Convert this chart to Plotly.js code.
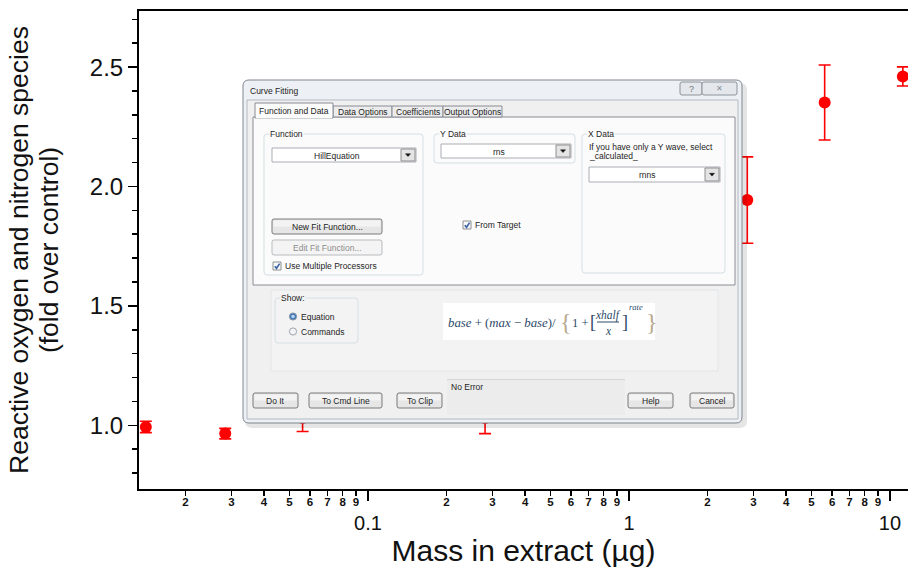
<!DOCTYPE html>
<html><head><meta charset="utf-8">
<script src="https://cdn.plot.ly/plotly-3.0.1.min.js"></script>
<style>html,body{margin:0;padding:0;background:#fff;overflow:hidden}#chart{width:908px;height:569px}</style>
</head><body><div id="chart"></div>
<script>
// ---- data ----
const massUg  = [0.0141, 0.0284, 0.0562, 0.142, 0.281, 2.84, 5.62, 11.2];
const rnsFold = [0.993, 0.965, 1.03, 1.05, 1.03, 1.943, 2.352, 2.461];
const rnsErr  = [0.024, 0.022, 0.056, 0.02, 0.065, 0.181, 0.157, 0.04];
const majorTicks  = [0.1, 1, 10];
const majorLabels = ['0.1', '1', '10'];
const minorTicks  = [0.02,0.03,0.04,0.05,0.06,0.07,0.08,0.09,0.2,0.3,0.4,0.5,0.6,0.7,0.8,0.9,2,3,4,5,6,7,8,9];
const minorLabels = ['2','3','4','5','6','7','8','9','2','3','4','5','6','7','8','9','2','3','4','5','6','7','8','9'];
const yTickVals   = [1.0, 1.5, 2.0, 2.5];

// ---- dialog overlay helpers (pixel -> paper) ----
const ML=139, MT=11, PW=769, PH=478;
const X = p => (p-ML)/PW, Y = p => (MT+PH-p)/PH;
const shapes=[], ann=[];
const UI=8.5;
function ln(c,w){return c?{color:c,width:w||1}:{color:'rgba(0,0,0,0)',width:0};}
function rect(x0,y0,x1,y1,fill,line,lw){shapes.push({type:'rect',xref:'paper',yref:'paper',x0:X(x0),x1:X(x1),y0:Y(y0),y1:Y(y1),fillcolor:fill||'rgba(0,0,0,0)',line:ln(line,lw),layer:'above'});}
function rrect(x0,y0,x1,y1,r,fill,line,lw){
  const p=`M${X(x0+r)},${Y(y0)} L${X(x1-r)},${Y(y0)} Q${X(x1)},${Y(y0)} ${X(x1)},${Y(y0+r)} L${X(x1)},${Y(y1-r)} Q${X(x1)},${Y(y1)} ${X(x1-r)},${Y(y1)} L${X(x0+r)},${Y(y1)} Q${X(x0)},${Y(y1)} ${X(x0)},${Y(y1-r)} L${X(x0)},${Y(y0+r)} Q${X(x0)},${Y(y0)} ${X(x0+r)},${Y(y0)} Z`;
  shapes.push({type:'path',xref:'paper',yref:'paper',path:p,fillcolor:fill||'rgba(0,0,0,0)',line:ln(line,lw),layer:'above'});
}
function seg(x0,y0,x1,y1,c,w){shapes.push({type:'line',xref:'paper',yref:'paper',x0:X(x0),x1:X(x1),y0:Y(y0),y1:Y(y1),line:{color:c,width:w||1},layer:'above'});}
function poly(pts,fill,line,lw,closed){
  let p='M'+pts.map(q=>X(q[0])+','+Y(q[1])).join(' L')+(closed?' Z':'');
  shapes.push({type:'path',xref:'paper',yref:'paper',path:p,fillcolor:fill||'rgba(0,0,0,0)',line:ln(line,lw),layer:'above'});
}
function circ(cx,cy,r,fill,line){shapes.push({type:'circle',xref:'paper',yref:'paper',x0:X(cx-r),x1:X(cx+r),y0:Y(cy+r),y1:Y(cy-r),fillcolor:fill,line:ln(line,1),layer:'above'});}
function txt(x,y,t,o){o=o||{};ann.push({xref:'paper',yref:'paper',x:X(x),y:Y(y),text:t,showarrow:false,xanchor:o.anchor||'left',yanchor:o.yanchor||'middle',borderpad:0,bgcolor:o.bg||'rgba(0,0,0,0)',font:{family:o.family||'Liberation Sans',size:o.size||UI,color:o.color||'#1e1e1e',style:o.style||'normal'}});}
function btn(x0,y0,x1,y1,label,disabled){
  rrect(x0,y0,x1,y1,2,disabled?'#f4f4f4':'#e6e6e6',disabled?'#b7bbbf':'#7a7a7a',1);
  if(!disabled) rect(x0+1.5,y0+1.5,x1-1.5,(y0+y1)/2,'#f3f3f3');
  txt((x0+x1)/2,(y0+y1)/2+0.5,label,{anchor:'center',color:disabled?'#8d8d8d':'#1e1e1e'});
}
function dropdown(x0,y0,x1,y1,label){
  rect(x0,y0,x1,y1,'#ffffff','#abadb3',1);
  const bx0=x1-15;
  rect(bx0,y0+1,x1-1,y1-1,'#e4e4e4','#8f8f8f',1);
  const cx=(bx0+x1-1)/2, cy=(y0+y1)/2;
  poly([[cx-2.5,cy-1.2],[cx+2.5,cy-1.2],[cx,cy+1.6]],'#111','#111',0.5,true);
  txt((x0+bx0)/2,cy+0.5,label,{anchor:'center'});
}
function check(x0,y0,label){
  rect(x0,y0,x0+8,y0+8,'#f6f8fb','#8e8f8f',1);
  poly([[x0+1.8,y0+4.2],[x0+3.5,y0+6.3],[x0+6.6,y0+1.6]],null,'#3e62a3',1.6,false);
  txt(x0+11,y0+4.3,label);
}
function group(x0,y0,x1,y1,label,bg){
  rrect(x0,y0,x1,y1,3,null,'#d5dfe5',1);
  txt(x0+5,y0,label,{bg:bg||'#fbfbfb'});
}

// window shadow & frame
rrect(245,83,747,428,7,'rgba(0,0,0,0.10)');
rrect(243,80,742,423,6,'#edf0f4','#7f8790',1);
rect(247,100,738,419,'#f0f0f0','#b4bac2',1);
txt(249,91,'Curve Fitting',{size:8.5});
// caption buttons
rrect(680,82,702,95,2,'#e4e7eb','#8e949b',1);
rrect(702,82,737,95,2,'#e4e7eb','#8e949b',1);
txt(691,88.5,'?',{anchor:'center',color:'#6f767e',size:9});
txt(719.5,88.5,'✕',{anchor:'center',color:'#8b9097',size:8,family:'DejaVu Sans'});
// tab pane
rect(253,117,735,285,'#fbfbfb','#898c95',1);
rect(333,106,392,117,'#ececec','#898c95',1);
rect(392,106,443,117,'#ececec','#898c95',1);
rect(443,106,502,117,'#ececec','#898c95',1);
rect(255,103,333,118,'#fbfbfb','#898c95',1);
seg(256,117.6,332,117.6,'#fbfbfb',1.5);
txt(294,110.5,'Function and Data',{anchor:'center'});
txt(362.5,112,'Data Options',{anchor:'center'});
txt(417.5,112,'Coefficients',{anchor:'center'});
txt(472.5,112,'Output Options',{anchor:'center'});
// group boxes
group(264,134,423,275,'Function');
group(434,134,575,163,'Y Data');
group(582,134,725,273,'X Data');
dropdown(272,148,416,162,'HillEquation');
dropdown(441,144,571,158,'rns');
dropdown(589,167,720,182,'rnns');
txt(588,146.5,'If you have only a Y wave, select');
txt(588,155.5,'_calculated_');
btn(272,219,382,234,'New Fit Function...',false);
btn(272,240,382,255,'Edit Fit Function...',true);
check(273,262,'Use Multiple Processors');
check(463,221,'From Target');
// lower panel
rect(271,290,718,371,'#f3f3f3','#e1e5e9',1);
group(275,298,358,343,'Show:','#f3f3f3');
circ(293,316.5,3.6,'#3f74b8','#8e9aa6');
circ(293,316.5,1.8,'#bcd6f0',null);
txt(300,316.5,'Equation');
circ(293,331.5,3.6,'#f2f4f6','#9ba4ad');
txt(300,331.5,'Commands');
rect(443,303,655,340,'#ffffff');
const eqC='#2d4a69', SER='Liberation Serif';
txt(447,323,'<i>base</i> + (<i>max</i> − <i>base</i>)/',{family:SER,size:12.8,color:eqC});
txt(559,322,'{',{family:SER,size:24,color:'#b8a98f'});
txt(571,323,'1 +',{family:SER,size:12.5,color:eqC});
txt(588.5,322.5,'[',{family:SER,size:18,color:eqC});
txt(608,315.5,'<i>xhalf</i>',{family:SER,size:11.5,color:eqC,anchor:'center'});
seg(597,322,619,322,eqC,1);
txt(608,330.5,'<i>x</i>',{family:SER,size:11.5,color:eqC,anchor:'center'});
txt(620.5,322.5,']',{family:SER,size:18,color:eqC});
txt(627.5,306.5,'<i>rate</i>',{family:SER,size:8.5,color:eqC});
txt(645,322,'}',{family:SER,size:24,color:'#b8a98f'});
// bottom row
btn(253,393,298,408,'Do It');
btn(309,393,382,408,'To Cmd Line');
btn(397,393,442,408,'To Clip');
rect(447,379,625,415,'#ececec');
seg(447,379.5,625,379.5,'#d6d6d6',1);
txt(450,386.5,'No Error');
btn(628,393,673,408,'Help');
btn(690,393,734,408,'Cancel');

// ---- traces ----
const data=[
  {type:'scatter',mode:'markers',x:massUg,y:rnsFold,
   marker:{color:'#ff0000',size:12,line:{width:0}},
   error_y:{type:'data',array:rnsErr,visible:true,color:'#ff0000',thickness:1.6,width:6},
   showlegend:false,hoverinfo:'x+y'},
  {type:'scatter',mode:'markers',x:[1],y:[1.5],xaxis:'x2',yaxis:'y',marker:{opacity:0},showlegend:false,hoverinfo:'skip'}
];
const xr=[-1.877,1.069];
const layout={
  width:908,height:569,
  margin:{l:ML,t:MT,r:0,b:569-MT-PH},
  paper_bgcolor:'#ffffff',plot_bgcolor:'#ffffff',
  font:{family:'Liberation Sans',color:'#111'},
  xaxis:{type:'log',range:xr,tickvals:majorTicks,ticktext:majorLabels,
    ticks:'outside',ticklen:10,tickwidth:1.5,tickcolor:'#000',
    showline:true,linewidth:2,linecolor:'#000',mirror:true,
    showgrid:false,zeroline:false,automargin:false,ticklabelstandoff:5,
    tickfont:{family:'Liberation Sans',size:20,color:'#111'},
    title:{text:'Mass in extract (µg)',font:{family:'Liberation Sans',size:30,color:'#111'},standoff:5}},
  xaxis2:{type:'log',range:xr,overlaying:'x',anchor:'y',side:'bottom',
    tickvals:minorTicks,ticktext:minorLabels,ticks:'outside',ticklen:6,tickwidth:1.5,tickcolor:'#000',
    showline:false,showgrid:false,zeroline:false,automargin:false,ticklabelstandoff:-4,
    tickfont:{family:'Liberation Sans',size:11.5,color:'#111',weight:'bold'}},
  yaxis:{range:[0.733,2.735],tickvals:yTickVals,tickformat:'.1f',
    ticks:'outside',ticklen:9,tickwidth:1.5,tickcolor:'#000',
    minor:{dtick:0.1,tick0:0,ticks:'outside',ticklen:5,tickwidth:1.5,tickcolor:'#000'},
    showline:true,linewidth:2,linecolor:'#000',mirror:false,
    showgrid:false,zeroline:false,automargin:false,
    tickfont:{family:'Liberation Sans',size:24,color:'#111'},
    title:{text:'<span style="font-size:26.5px">Reactive oxygen and nitrogen species</span><br><span style="font-size:26.5px">(fold over control)</span>',
      font:{family:'Liberation Sans',size:23,color:'#111'},standoff:25}},
  shapes:shapes,annotations:ann,showlegend:false
};
Plotly.newPlot('chart',data,layout,{displayModeBar:false,staticPlot:true});
</script></body></html>
